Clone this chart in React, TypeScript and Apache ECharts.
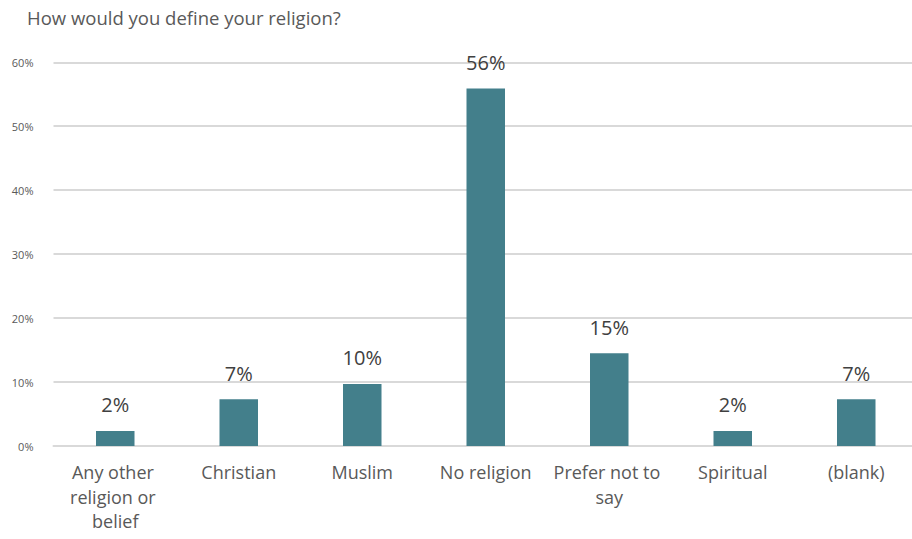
import React, { useEffect, useRef } from "react";
import * as echarts from "echarts";

const title = "How would you define your religion?";
const categories = [
  "Any other religion or belief",
  "Christian",
  "Muslim",
  "No religion",
  "Prefer not to say",
  "Spiritual",
  "(blank)",
];
const values = [2.35, 7.3, 9.7, 55.9, 14.5, 2.35, 7.3];
const yTicks = [0, 10, 20, 30, 40, 50, 60];

const FONT = "'Open Sans', 'Liberation Sans', sans-serif";

export default function App() {
  const ref = useRef<HTMLDivElement>(null);
  useEffect(() => {
    if (!ref.current) return;
    const chart = echarts.init(ref.current, undefined, { renderer: "svg" });
    chart.setOption({
      animation: false,
      title: {
        text: title,
        left: 22,
        top: 3,
        textStyle: { fontFamily: FONT, fontSize: 18.5, fontWeight: "normal", color: "#595959" },
      },
      grid: { left: 53.5, top: 62.3, width: 864.5, height: 383.7, containLabel: false },
      xAxis: {
        type: "category",
        data: categories,
        axisLine: { show: true, lineStyle: { color: "#d9d9d9", width: 2 } },
        axisTick: { show: false },
        axisLabel: {
          interval: 0,
          margin: 14,
          fontFamily: FONT,
          fontSize: 18,
          lineHeight: 24.5,
          color: "#595959",
          width: 116,
          overflow: "break",
        },
      },
      yAxis: {
        type: "value",
        min: yTicks[0],
        max: yTicks[yTicks.length - 1],
        interval: 10,
        axisLine: { show: false },
        axisTick: { show: false },
        splitLine: { lineStyle: { color: "#d9d9d9", width: 2 } },
        axisLabel: {
          margin: 20,
          fontFamily: FONT,
          fontSize: 11,
          color: "#595959",
          formatter: (v: number) => `${v}%`,
        },
      },
      series: [
        {
          type: "bar",
          data: values,
          barWidth: 38.5,
          itemStyle: { color: "#437f8b" },
          label: {
            show: true,
            position: "top",
            distance: 16,
            fontFamily: FONT,
            fontSize: 20,
            color: "#404040",
            formatter: (p: any) => `${Math.round(p.value)}%`,
          },
        },
      ],
    });
    return () => chart.dispose();
  }, []);
  return (
    <div style={{ width: 912, height: 539, position: "absolute", left: 0, top: 0, overflow: "hidden" }}>
      <div ref={ref} style={{ width: 925, height: 539 }} />
    </div>
  );
}
